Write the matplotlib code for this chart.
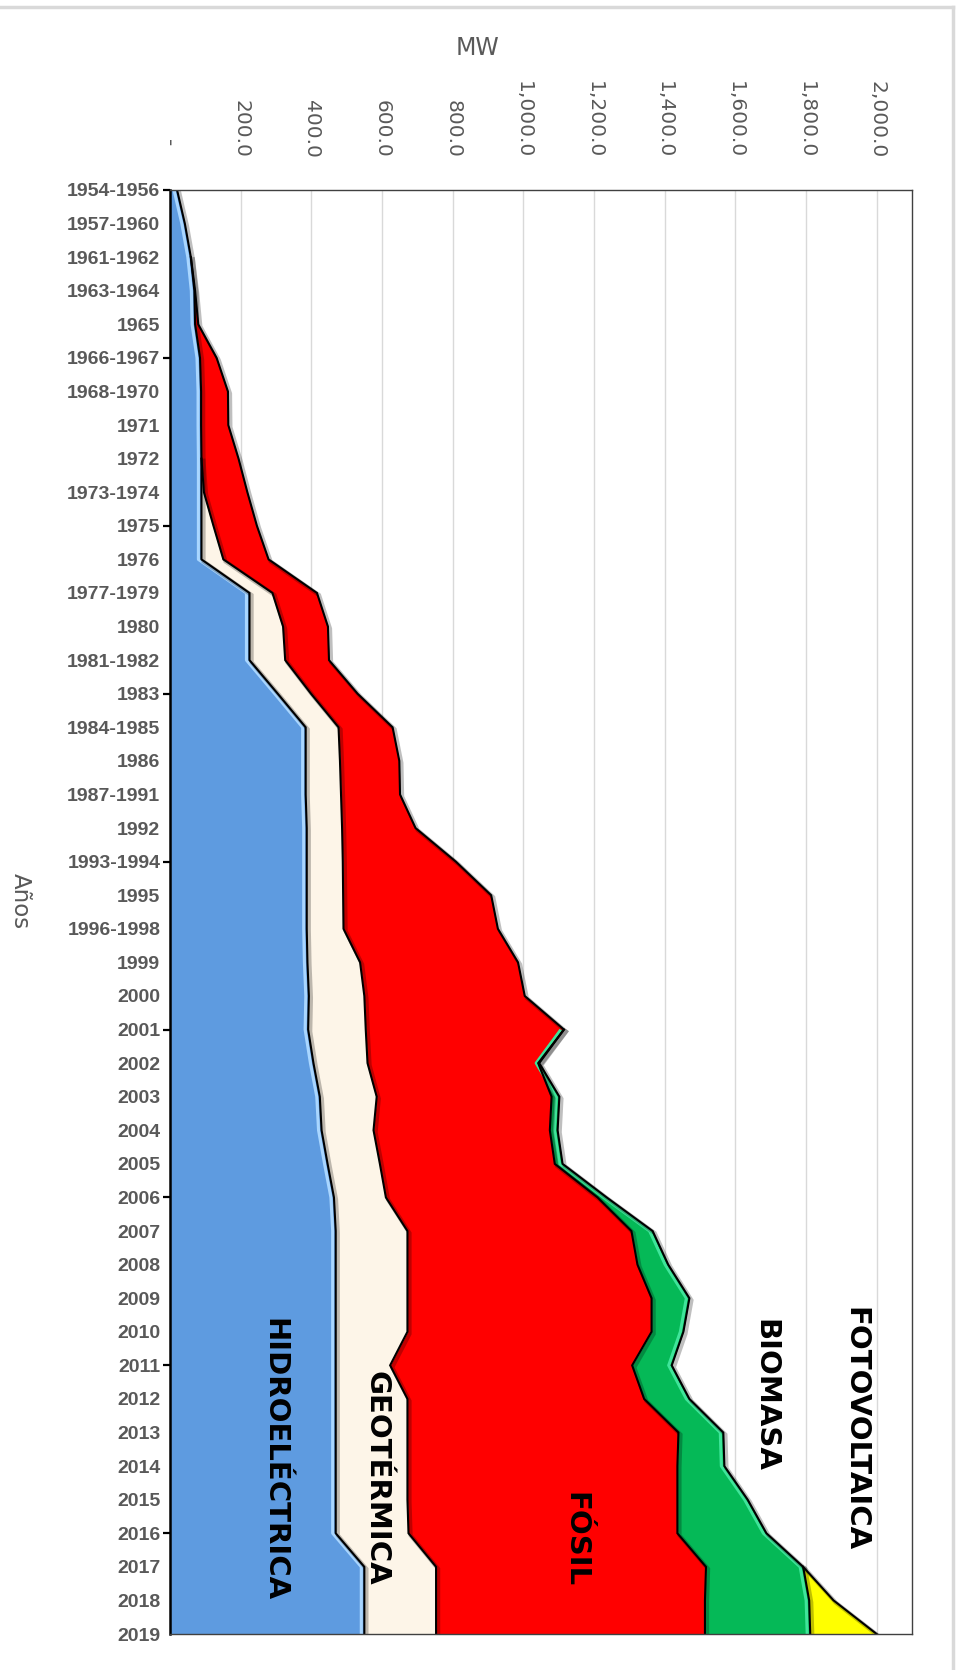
import matplotlib
matplotlib.use('Agg')
import matplotlib.pyplot as plt
import numpy as np
from matplotlib import patheffects as pe
from matplotlib.lines import Line2D
from matplotlib.ticker import FuncFormatter

# ---------------- data ----------------
years = ['1954-1956', '1957-1960', '1961-1962', '1963-1964', '1965', '1966-1967',
         '1968-1970', '1971', '1972', '1973-1974', '1975', '1976', '1977-1979',
         '1980', '1981-1982', '1983', '1984-1985', '1986', '1987-1991', '1992',
         '1993-1994', '1995', '1996-1998', '1999', '2000', '2001', '2002', '2003',
         '2004', '2005', '2006', '2007', '2008', '2009', '2010', '2011', '2012',
         '2013', '2014', '2015', '2016', '2017', '2018', '2019']

hidro = [20, 42, 59, 69, 71, 85, 88, 88, 89, 89, 89, 89, 225, 225, 225, 305, 384,
         384, 384, 387, 387, 387, 387, 389, 393, 391, 406, 424, 429, 446, 464, 469,
         469, 469, 469, 469, 469, 469, 469, 469, 469, 550, 550, 550]
geo = [0, 0, 0, 0, 0, 0, 0, 0, 0, 7, 34, 62, 65, 95, 101, 94, 93, 97, 100, 100,
       102, 103, 104, 149, 157, 163, 153, 161, 147, 148, 147, 203, 203, 203, 203,
       154, 203, 203, 203, 203, 206, 203, 203, 203]
fosil = [0, 0, 0, 2, 9, 47, 76, 77, 105, 123, 123, 128, 126, 127, 124, 132, 153,
         168, 167, 208, 320, 419, 437, 447, 454, 561, 483, 495, 499, 495, 599, 634,
         651, 691, 691, 685, 670, 767, 764, 764, 761, 764, 761, 761]
biomasa = [0, 0, 0, 0, 0, 0, 0, 0, 0, 0, 0, 0, 0, 0, 0, 0, 0, 0, 0, 0, 0, 0, 0,
           0, 0, 0, 3, 22, 22, 22, 26, 60, 87, 107, 90, 112, 128, 127, 133, 199,
           252, 275, 295, 298]
foto = [0, 0, 0, 0, 0, 0, 0, 0, 0, 0, 0, 0, 0, 0, 0, 0, 0, 0, 0, 0, 0, 0, 0, 0,
        0, 0, 0, 0, 0, 0, 0, 0, 0, 0, 0, 0, 0, 0, 0, 0, 0, 0, 69, 188]

series_names = ['HIDROELÉCTRICA', 'GEOTÉRMICA', 'FÓSIL', 'BIOMASA', 'FOTOVOLTAICA']
mw_ticks = [0, 200, 400, 600, 800, 1000, 1200, 1400, 1600, 1800, 2000]

# ---------------- style ----------------
colors = ['#5E9BE0', '#FDF5E8', '#FF0000', '#05B957', '#FFFF00']
highlights = ['#A9D6FF', None, None, '#3FE59A', None]
gray = '#595959'

fig = plt.figure(figsize=(9.6, 16.7), dpi=100)
ax = fig.add_axes([170 / 960, 36 / 1670, 742 / 960, 1444 / 1670])

rows = np.arange(len(years))
data = [np.array(s, dtype=float) for s in (hidro, geo, fosil, biomasa, foto)]
cum = np.cumsum(np.vstack(data), axis=0)
lower = np.vstack([np.zeros(len(years)), cum[:-1]])

for i in range(len(data)):
    ax.fill_betweenx(rows, lower[i], cum[i], color=colors[i], lw=0, zorder=2)

for i in range(len(data)):
    nz = np.nonzero(data[i] > 0)[0]
    start = 0 if i == 0 else max(nz[0] - 1, 0)
    seg = rows >= start
    effects = [pe.SimpleLineShadow(offset=(1.5, -1.5), shadow_color='#000000',
                                   alpha=0.25, linewidth=3), pe.Normal()]
    if highlights[i] is not None:
        ax.plot(cum[i][seg], rows[seg], color=highlights[i], lw=2.2, zorder=3,
                solid_capstyle='butt',
                transform=ax.transData + matplotlib.transforms.ScaledTranslation(
                    -2.2 / 72, 0, fig.dpi_scale_trans))
    ax.plot(cum[i][seg], rows[seg], color='black', lw=1.5, zorder=4,
            solid_joinstyle='miter', path_effects=effects)

# series labels
label_pos = [(295, 37.8), (584, 38.35), (1148, 40.2), (1684, 35.9), (1941, 36.9)]
for name, (lx, ly) in zip(series_names, label_pos):
    ax.text(lx, ly, name, rotation=-90, ha='center', va='center',
            fontsize=21, fontweight='bold', color='black', zorder=6,
            family='DejaVu Sans')

# axes
ax.set_xlim(0, 2100)
ax.set_ylim(len(years) - 1, 0)
ax.xaxis.tick_top()
ax.set_xticks(mw_ticks)
ax.xaxis.set_major_formatter(FuncFormatter(
    lambda v, p: '-  ' if v == 0 else f'{v:,.1f}'))
ax.tick_params(axis='x', length=0, pad=23, labelrotation=-90,
               labelsize=14.5, labelcolor=gray)
ax.grid(axis='x', color='#D9D9D9', lw=1, zorder=1)
ax.set_axisbelow(True)

ax.set_yticks(rows)
ax.set_yticklabels(years)
for t in ax.get_yticklabels():
    t.set_fontfamily(['Liberation Sans', 'DejaVu Sans'])
    t.set_fontweight('bold')
    t.set_fontsize(14)
    t.set_color(gray)
ax.tick_params(axis='y', which='major', length=0, pad=7)
ax.yaxis.remove_overlapping_locs = False
ax.set_yticks(rows[::5], minor=True)
ax.tick_params(axis='y', which='minor', length=5, width=1.6, color='black')

for side in ['top', 'right', 'bottom']:
    ax.spines[side].set_color('#404040')
    ax.spines[side].set_linewidth(1.0)
ax.spines['left'].set_color('black')
ax.spines['left'].set_linewidth(1.8)
for s in ax.spines.values():
    s.set_zorder(5)

# titles
fig.text(477 / 960, 1 - 48 / 1670, 'MW', ha='center', va='center',
         fontsize=17, color=gray)
fig.text(20 / 960, 1 - 901 / 1670, 'Años', rotation=-90, ha='center',
         va='center', fontsize=16.5, color=gray)

# chart area border
fig.add_artist(Line2D([0, 953 / 960], [1 - 7 / 1670, 1 - 7 / 1670],
                      transform=fig.transFigure, color='#D9D9D9', lw=2.5))
fig.add_artist(Line2D([953 / 960, 953 / 960], [0, 1 - 7 / 1670],
                      transform=fig.transFigure, color='#D9D9D9', lw=2.5))

fig.savefig('out.png', dpi=100)
